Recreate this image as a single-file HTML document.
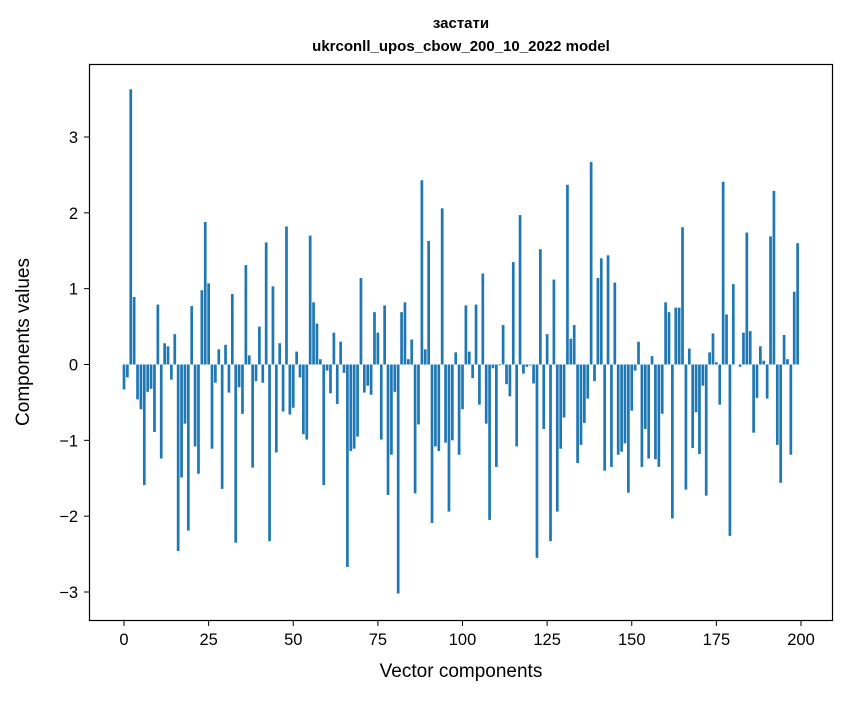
<!DOCTYPE html>
<html><head><meta charset="utf-8"><style>
body{margin:0;background:#fff;font-family:"Liberation Sans","DejaVu Sans",sans-serif;}
svg text{font-family:"Liberation Sans","DejaVu Sans",sans-serif;}
</style></head><body>
<svg id="chart" width="847" height="696" xmlns="http://www.w3.org/2000/svg">
<rect width="847" height="696" fill="#fff"/>
<text x="461" y="28" text-anchor="middle" font-size="15" font-weight="bold">застати</text>
<text x="461" y="51" text-anchor="middle" font-size="15" font-weight="bold">ukrconll_upos_cbow_200_10_2022 model</text>
<g id="bars"></g>
<g id="axes"></g>
<rect x="89.5" y="64.5" width="743" height="556" fill="none" stroke="#000" stroke-width="1.2"/>
<text x="461" y="677" text-anchor="middle" font-size="19">Vector components</text>
<text transform="translate(29,342) rotate(-90)" text-anchor="middle" font-size="19">Components values</text>
</svg>
<script>
const values = [-0.33,-0.17,3.63,0.89,-0.46,-0.59,-1.59,-0.36,-0.32,-0.89,
0.79,-1.24,0.28,0.24,-0.2,0.40,-2.46,-1.49,-0.78,-2.19,
0.77,-1.08,-1.44,0.98,1.88,1.07,-1.11,-0.24,0.2,-1.64,
0.26,-0.37,0.93,-2.35,-0.30,-0.65,1.31,0.12,-1.36,-0.22,
0.50,-0.24,1.61,-2.33,1.03,-1.16,0.28,-0.62,1.82,-0.66,
-0.57,0.17,-0.17,-0.92,-0.99,1.70,0.82,0.54,0.07,-1.59,
-0.08,-0.38,0.42,-0.52,0.30,-0.11,-2.67,-1.14,-1.11,-0.95,
1.14,-0.37,-0.28,-0.40,0.69,0.42,-0.99,0.78,-1.72,-1.19,
-0.36,-3.02,0.69,0.82,0.07,0.33,-1.70,-0.79,2.43,0.2,
1.63,-2.09,-1.08,-1.14,2.06,-1.03,-1.94,-1.00,0.16,-1.19,
-0.59,0.78,0.17,-0.18,0.79,-0.53,1.20,-0.78,-2.05,-0.05,
-1.35,-0.01,0.52,-0.26,-0.42,1.35,-1.08,1.97,-0.12,-0.03,
-0.01,-0.25,-2.55,1.52,-0.85,0.40,-2.33,1.12,-1.94,-1.11,
-0.70,2.37,0.34,0.52,-1.30,-1.06,-0.77,-0.45,2.67,-0.22,
1.14,1.40,-1.40,1.44,-1.35,1.08,-1.19,-1.15,-1.04,-1.69,
-0.61,-0.08,0.30,-1.35,-0.85,-1.24,0.11,-1.25,-1.35,-0.65,
0.82,0.69,-2.03,0.75,0.75,1.81,-1.65,0.21,-1.10,-0.63,
-1.18,-0.28,-1.73,0.16,0.41,0.03,-0.53,2.41,0.66,-2.26,
1.06,0.0,-0.03,0.42,1.74,0.44,-0.90,-0.44,0.24,0.05,
-0.45,1.69,2.29,-1.06,-1.56,0.39,0.07,-1.19,0.96,1.60];
const xTicks = [0,25,50,75,100,125,150,175,200];
const yTicks = [-3,-2,-1,0,1,2,3];
const yTickLabels = ["\u22123","\u22122","\u22121","0","1","2","3"];
const NS="http://www.w3.org/2000/svg";
function xs(v){return 124+v*3.385;}
function ys(v){return 364.5-v*75.83;}
const bars=document.getElementById('bars');
values.forEach((v,i)=>{
  const r=document.createElementNS(NS,'rect');
  const y0=ys(0), y1=ys(v);
  r.setAttribute('x',xs(i-0.4));
  r.setAttribute('width',0.8*3.385);
  r.setAttribute('y',Math.min(y0,y1));
  r.setAttribute('height',Math.abs(y1-y0));
  r.setAttribute('fill','#1f77b4');
  
  
  bars.appendChild(r);
});
const axes=document.getElementById('axes');
xTicks.forEach(t=>{
  const l=document.createElementNS(NS,'line');
  l.setAttribute('x1',xs(t));l.setAttribute('x2',xs(t));
  l.setAttribute('y1',620.5);l.setAttribute('y2',626);
  l.setAttribute('stroke','#000');
  
  
  axes.appendChild(l);
  const tx=document.createElementNS(NS,'text');
  tx.setAttribute('x',xs(t));tx.setAttribute('y',645);
  tx.setAttribute('text-anchor','middle');tx.setAttribute('font-size','16.5');
  tx.textContent=t;
  
  
  axes.appendChild(tx);
});
yTicks.forEach((t,k)=>{
  const l=document.createElementNS(NS,'line');
  l.setAttribute('x1',84);l.setAttribute('x2',89.5);
  l.setAttribute('y1',ys(t));l.setAttribute('y2',ys(t));
  l.setAttribute('stroke','#000');
  
  
  axes.appendChild(l);
  const tx=document.createElementNS(NS,'text');
  tx.setAttribute('x',78);tx.setAttribute('y',ys(t)+6);
  tx.setAttribute('text-anchor','end');tx.setAttribute('font-size','16.5');
  tx.textContent=yTickLabels[k];
  
  
  axes.appendChild(tx);
});
</script>
</body></html>
